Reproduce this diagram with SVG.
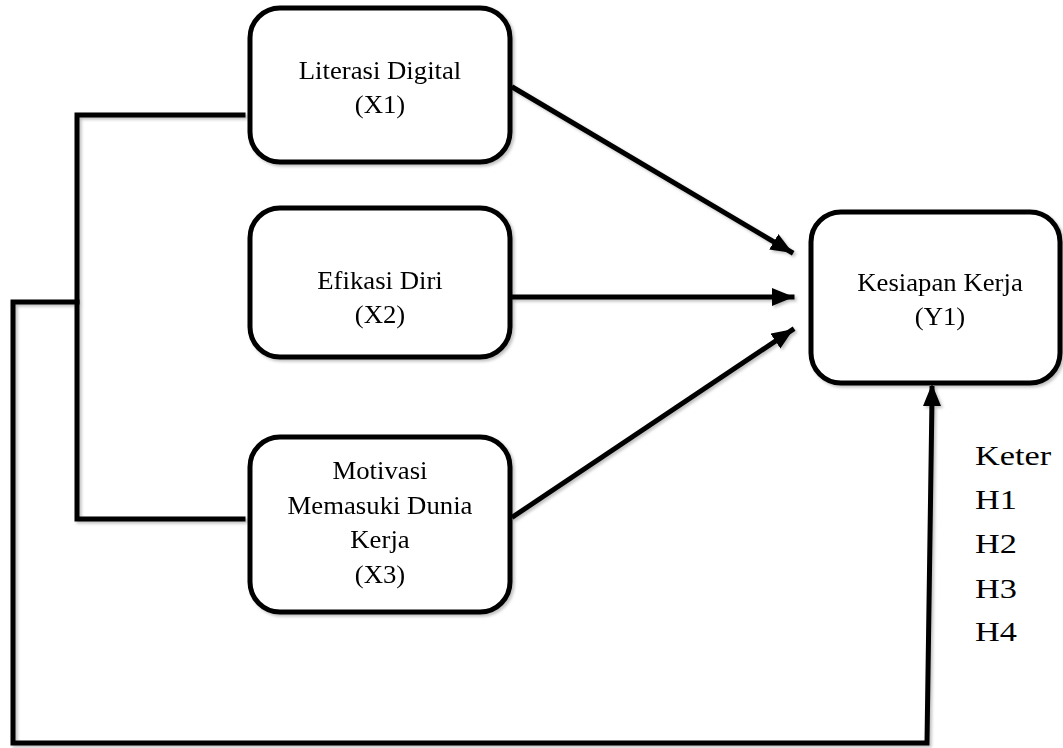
<svg xmlns="http://www.w3.org/2000/svg" width="1063" height="748" viewBox="0 0 1063 748">
<style>
.box{fill:#fff;stroke:#000;stroke-width:5}
.lbl{font-family:"Liberation Serif","Times New Roman",serif;font-size:25px;fill:#000;text-anchor:middle}
.leg{font-family:"Liberation Serif","Times New Roman",serif;font-size:27px;fill:#000}
.ln{fill:none;stroke:#000;stroke-width:5;stroke-linecap:square}
</style>
<defs>
<marker id="ah" markerUnits="userSpaceOnUse" markerWidth="22" markerHeight="18" refX="20" refY="9" orient="auto">
<path d="M0,0 L22,9 L0,18 Z" fill="#000"/>
</marker>
<filter id="sh" x="-5%" y="-5%" width="110%" height="110%">
<feDropShadow dx="2" dy="2" stdDeviation="1.5" flood-color="#000" flood-opacity="0.25"/>
</filter>
</defs>
<rect width="1063" height="748" fill="#fff"/>
<g id="connectors" filter="url(#sh)">
<polyline class="ln" points="243,115 77,115 77,519 243,519"/>
<polyline class="ln" points="77,302 13,302 13,743 927,743 932,398"/>
<line class="ln" x1="514" y1="88" x2="791" y2="252" stroke-linecap="butt" marker-end="url(#ah)"/>
<line class="ln" x1="514" y1="297" x2="792" y2="297" stroke-linecap="butt" marker-end="url(#ah)"/>
<line class="ln" x1="514" y1="516" x2="792" y2="330" stroke-linecap="butt" marker-end="url(#ah)"/>
<path d="M932,403 L932,386" stroke="#000" stroke-width="5" marker-end="url(#ah)"/>
</g>
<g id="nodeX1" filter="url(#sh)">
<rect class="box" x="250" y="8" width="260" height="154" rx="30"/>
<g transform="translate(380,0) scale(1.07,1)">
<text class="lbl" x="0" y="79">Literasi Digital</text>
<text class="lbl" x="0" y="113">(X1)</text>
</g>
</g>
<g id="nodeX2" filter="url(#sh)">
<rect class="box" x="250" y="208" width="260" height="149" rx="30"/>
<g transform="translate(380,0) scale(1.07,1)">
<text class="lbl" x="0" y="289">Efikasi Diri</text>
<text class="lbl" x="0" y="323">(X2)</text>
</g>
</g>
<g id="nodeX3" filter="url(#sh)">
<rect class="box" x="250" y="437" width="260" height="175" rx="30"/>
<g transform="translate(380,0) scale(1.07,1)">
<text class="lbl" x="0" y="479">Motivasi</text>
<text class="lbl" x="0" y="514">Memasuki Dunia</text>
<text class="lbl" x="0" y="548">Kerja</text>
<text class="lbl" x="0" y="583">(X3)</text>
</g>
</g>
<g id="nodeY1" filter="url(#sh)">
<rect class="box" x="811" y="212" width="249" height="171" rx="30"/>
<g transform="translate(940,0) scale(1.07,1)">
<text class="lbl" x="0" y="291">Kesiapan Kerja</text>
<text class="lbl" x="0" y="325">(Y1)</text>
</g>
</g>
<g id="legend" transform="translate(975,0) scale(1.27,1)">
<text class="leg" x="0" y="465">Keter</text>
<text class="leg" x="0" y="509">H1</text>
<text class="leg" x="0" y="553">H2</text>
<text class="leg" x="0" y="598">H3</text>
<text class="leg" x="0" y="641">H4</text>
</g>
</svg>
